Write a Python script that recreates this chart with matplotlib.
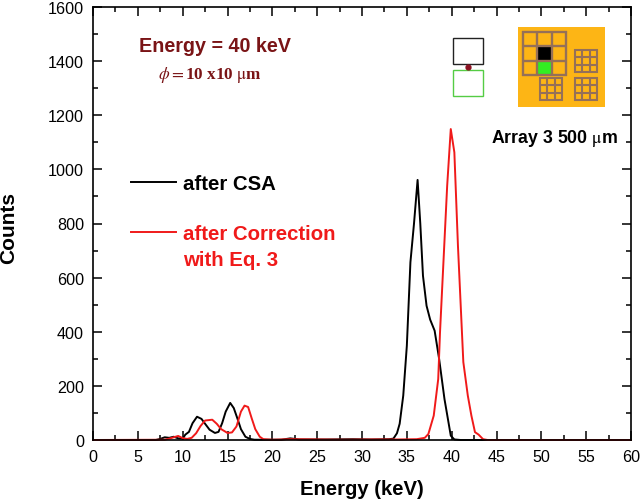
import numpy as np
import matplotlib
matplotlib.use('Agg')
import matplotlib.pyplot as plt
from matplotlib.patches import Rectangle

plt.rcParams['font.family'] = ['Liberation Sans', 'DejaVu Sans']
plt.rcParams['mathtext.fontset'] = 'stix'

# spectra
csa_x = [0, 7, 7.5, 8, 8.5, 9, 9.5, 10, 10.3, 10.7, 11.1, 11.6, 12.1, 12.5, 13, 13.6, 14, 14.4, 14.8, 15.3,
         15.7, 16.1, 16.5, 17, 17.5, 18, 21, 22, 23, 26, 29, 31, 33, 33.5, 33.9, 34.2, 34.6, 35, 35.4, 35.8,
         36.2, 36.5, 36.8, 37.2, 37.6, 38.1, 38.6, 39.2, 39.9, 40.3, 41, 60]
csa_y = [0, 0, 4, 10, 8, 12, 6, 5, 20, 30, 62, 86, 78, 60, 38, 26, 30, 62, 105, 137, 118, 80, 40, 12, 4, 1,
         1, 6, 2, 2, 3, 2, 3, 5, 25, 60, 164, 348, 657, 800, 961, 800, 607, 496, 445, 404, 300, 151, 16, 2,
         0, 0]
corr_x = [0, 8, 8.5, 9, 9.5, 10, 10.5, 11, 11.5, 12, 12.5, 13.3, 13.8, 14.3, 15, 15.5, 16, 16.5, 16.9, 17.3,
          17.7, 18.1, 18.6, 19, 20, 22, 25, 28, 31, 34, 36.1, 37, 37.4, 38, 38.5, 38.7, 39.1, 39.5, 39.9,
          40.3, 40.7, 41.3, 41.8, 42.2, 42.6, 43, 43.5, 44, 60]
corr_y = [0, 1, 5, 10, 15, 7, 4, 8, 25, 52, 72, 75, 60, 40, 26, 28, 50, 105, 127, 122, 80, 40, 12, 3, 1, 3,
          2, 1, 2, 2, 3, 8, 22, 90, 225, 398, 669, 940, 1149, 1063, 718, 288, 164, 90, 29, 20, 3, 0, 0]

x_ticks = np.arange(0, 61, 5)
y_ticks = np.arange(0, 1601, 200)

fig = plt.figure(figsize=(6.4, 5.02), dpi=100)
ax = fig.add_axes([93 / 640, 1 - 441 / 502, 538 / 640, 433 / 502])

ax.plot(csa_x, csa_y, color='black', lw=1.4, clip_on=False)
ax.plot(corr_x, corr_y, color='#f01a1a', lw=1.4, clip_on=False)

ax.set_xlim(0, 60)
ax.set_ylim(0, 1600)
ax.set_xticks(x_ticks)
ax.set_yticks(y_ticks)
ax.set_xticks(x_ticks[:-1] + 2.5, minor=True)
ax.set_yticks(y_ticks[:-1] + 100, minor=True)
ax.tick_params(which='major', direction='in', length=6.5, width=1.1, top=True, right=True,
               labelsize=11.6, pad=6.5)
ax.tick_params(which='minor', direction='in', length=3.5, width=1.1, top=True, right=True)
for s in ax.spines.values():
    s.set_linewidth(1.2)

# overlay in pixel coordinates for the annotations and the sensor sketch
ov = fig.add_axes([0, 0, 1, 1])
ov.set_xlim(0, 640)
ov.set_ylim(502, 0)
ov.axis('off')
ov.patch.set_alpha(0)

ov.text(362, 490, 'Energy (keV)', fontsize=14.6, fontweight='bold', ha='center', va='center')
ov.text(9, 228, 'Counts', fontsize=15, fontweight='bold', rotation=90, ha='center', va='center')

dark_red = '#7a1416'
ov.text(139, 46, 'Energy = 40 keV', fontsize=14.2, fontweight='bold', color=dark_red, va='center')
ov.text(158, 75, r'$\phi=$10 x10 $\mathrm{\mu}$m', fontsize=12.3, fontweight='bold', color=dark_red,
        family=['Liberation Serif', 'DejaVu Serif'], va='center')

ov.plot([131, 176], [183, 183], color='black', lw=1.4)
ov.plot([131, 176], [233, 233], color='#f01a1a', lw=1.4)
ov.text(183, 185, 'after CSA', fontsize=14.7, fontweight='bold', va='center')
ov.text(183, 235, 'after Correction', fontsize=14.7, fontweight='bold', color='#f01a1a', va='center')
ov.text(183, 261, 'with Eq. 3', fontsize=14.7, fontweight='bold', color='#f01a1a', va='center')
ov.text(491, 139, r'Array 3 500 $\mathrm{\mu}$m', fontsize=12.8, fontweight='bold', va='center')

# pixel pair
ov.add_patch(Rectangle((453, 39), 30, 26, fc='white', ec='#222222', lw=1))
ov.add_patch(Rectangle((453, 71), 30, 26, fc='white', ec='#55cc44', lw=1))
ov.plot([467.5], [68], 'o', color='#8a1020', ms=3.5)

# array sketch
ov.add_patch(Rectangle((518, 28), 87, 80, fc='#fdb515', ec='none'))


def grid(x0, y0, w, h, lw):
    for i in range(4):
        ov.plot([x0 + w * i / 3] * 2, [y0 - 1, y0 + h + 1], color='#957058', lw=lw, solid_capstyle='butt')
        ov.plot([x0 - 1, x0 + w + 1], [y0 + h * i / 3] * 2, color='#957058', lw=lw, solid_capstyle='butt')


ov.add_patch(Rectangle((538, 48), 14, 14, fc='black', ec='none'))
ov.add_patch(Rectangle((538, 62), 14, 14, fc='#33ee22', ec='none'))
grid(523, 33, 43, 43, 1.7)
grid(575, 51, 22, 22, 1.5)
grid(540, 79, 22, 22, 1.5)
grid(575, 79, 22, 22, 1.5)

ov.set_xlim(0, 640)
ov.set_ylim(502, 0)
fig.savefig('out.png', dpi=100)
